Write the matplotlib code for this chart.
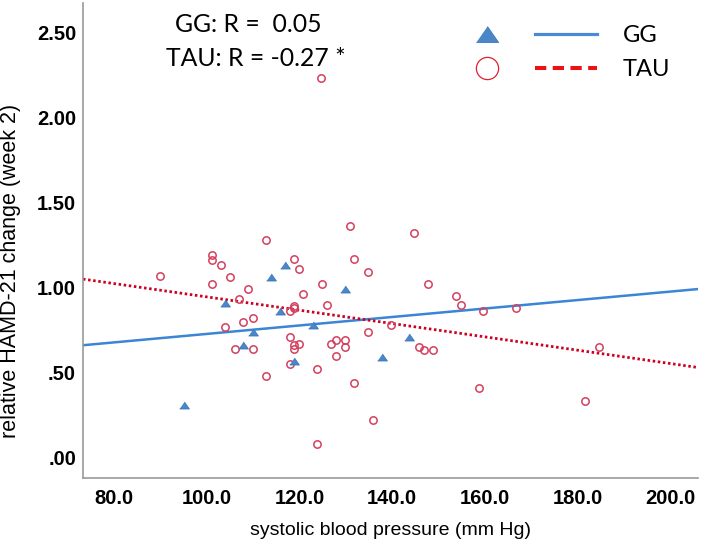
import numpy as np
import matplotlib.pyplot as plt
from matplotlib.lines import Line2D
from matplotlib.legend_handler import HandlerTuple
from matplotlib.ticker import FuncFormatter

# GG group (triangles)
gg_bp = [95.1, 103.9, 113.9, 116.9, 115.8, 109.9, 107.9, 118.9, 122.9, 129.8, 137.9, 143.7]
gg_change = [0.31, 0.91, 1.06, 1.13, 0.86, 0.74, 0.66, 0.57, 0.78, 0.99, 0.59, 0.71]

# TAU group (circles)
tau_bp = [89.9, 101.1, 101.1, 103.0, 101.1, 105.0, 112.9, 109.0, 107.0, 103.9,
          107.9, 109.9, 106.0, 109.9, 112.9, 118.9, 119.9, 118.9, 118.9, 118.0,
          120.8, 124.9, 125.9, 118.0, 118.9, 118.9, 119.9, 118.0, 123.9, 126.8,
          127.9, 127.9, 129.8, 129.8, 130.9, 131.8, 134.9, 134.9, 131.8, 135.8,
          123.9, 139.7, 124.7, 144.8, 147.8, 153.7, 154.8, 159.7, 166.7, 145.8,
          146.9, 148.8, 184.6, 158.8, 181.6]
tau_change = [1.07, 1.19, 1.16, 1.13, 1.02, 1.06, 1.28, 0.99, 0.93, 0.77,
              0.80, 0.82, 0.64, 0.64, 0.48, 1.17, 1.11, 0.89, 0.88, 0.86,
              0.96, 1.02, 0.90, 0.71, 0.66, 0.64, 0.67, 0.55, 0.52, 0.67,
              0.69, 0.60, 0.69, 0.65, 1.36, 1.17, 1.09, 0.74, 0.44, 0.22,
              0.08, 0.78, 2.23, 1.32, 1.02, 0.95, 0.90, 0.86, 0.88, 0.65,
              0.63, 0.63, 0.65, 0.41, 0.33]

# fit lines (slope, intercept) as drawn in the chart
gg_fit = (0.00249, 0.478)
tau_fit = (-0.00392, 1.337)

x_ticks = [80, 100, 120, 140, 160, 180, 200]
y_ticks = [0.0, 0.5, 1.0, 1.5, 2.0, 2.5]

annot_gg = "GG: R =  0.05"
annot_tau = "TAU: R = -0.27 *"

tri = [(-1, -0.72), (1, -0.72), (0, 0.72)]

fig = plt.figure(figsize=(7.08, 5.56), dpi=100)
ax = fig.add_axes([83/708, 1-478/556, 615/708, 475/556])

ax.set_xlim(73.31, 206.0)
ax.set_ylim(-0.1206, 2.674)

xs = np.array(ax.get_xlim())
ax.plot(xs, gg_fit[0]*xs + gg_fit[1], color='#3a86d4', lw=1.8, zorder=2)
ax.plot(xs, tau_fit[0]*xs + tau_fit[1], color='#cc0020', lw=2.0,
        linestyle=(0, (0.9, 0.95)), zorder=2)

ax.plot(tau_bp, tau_change, linestyle='none', marker='o', markersize=5.3,
        markerfacecolor='none', markeredgecolor='#d43f5e', markeredgewidth=1.1, zorder=3)
ax.plot(gg_bp, gg_change, linestyle='none', marker=tri, markersize=7,
        markerfacecolor='#4a86c8', markeredgecolor='#3a76bb', markeredgewidth=0.6, zorder=4)

for s in ['top', 'right']:
    ax.spines[s].set_visible(False)
for s in ['left', 'bottom']:
    ax.spines[s].set_color('#999999')
    ax.spines[s].set_linewidth(1.2)

ax.set_xticks(x_ticks)
ax.set_yticks(y_ticks)
ax.xaxis.set_major_formatter(FuncFormatter(lambda v, p: f"{v:.1f}"))
ax.yaxis.set_major_formatter(FuncFormatter(lambda v, p: f"{v:.2f}".lstrip('0') if v < 1 else f"{v:.2f}"))
ax.tick_params(length=0, labelsize=14.5)
ax.tick_params(axis='x', pad=8)
ax.tick_params(axis='y', pad=5)
for lab in ax.get_xticklabels() + ax.get_yticklabels():
    lab.set_fontfamily('Liberation Sans')
    lab.set_fontweight('bold')

ax.set_xlabel('systolic blood pressure (mm Hg)', fontfamily='Liberation Sans',
              fontsize=14, labelpad=10)
ax.set_ylabel('relative HAMD-21 change (week 2)', fontfamily='Liberation Sans',
              fontsize=15.5)
ax.yaxis.set_label_coords(-0.1008, 0.436)

ax.text(0.268, 0.9537, annot_gg, transform=ax.transAxes, ha='center', va='center',
        fontfamily='Lato', fontsize=17.8)
ax.text(0.2813, 0.884, annot_tau, transform=ax.transAxes, ha='center', va='center',
        fontfamily='Lato', fontsize=17.8)

h_gg = (Line2D([], [], linestyle='none', marker=tri, markersize=16,
               markerfacecolor='#4a86c8', markeredgecolor='#3a76bb', markeredgewidth=0.6),
        Line2D([], [], color='#4a8ad4', lw=2.3))
h_tau = (Line2D([], [], linestyle='none', marker='o', markersize=16,
                markerfacecolor='none', markeredgecolor='#e02030', markeredgewidth=0.9),
         Line2D([], [], color='#ee1111', lw=2.9, dashes=(2.8, 1.6)))
leg = ax.legend([h_gg, h_tau], ['GG', 'TAU'],
                handler_map={tuple: HandlerTuple(ndivide=None, pad=0.72)},
                loc='center left', bbox_to_anchor=(455.7/708, 1-52.5/556),
                bbox_transform=fig.transFigure, frameon=False,
                borderpad=0, borderaxespad=0, handlelength=5.97,
                handletextpad=1.1, labelspacing=0.54,
                prop={'family': 'Lato', 'size': 17})

fig.savefig('out.png', dpi=100)
